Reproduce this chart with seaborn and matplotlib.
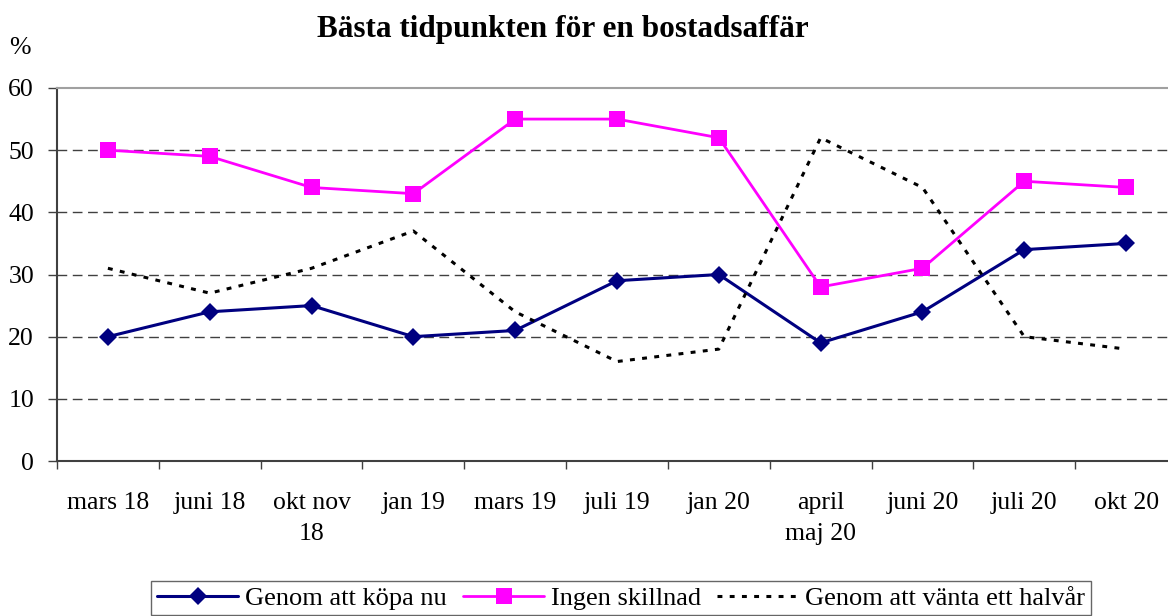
import matplotlib
matplotlib.use("Agg")
import matplotlib.pyplot as plt
import numpy as np
import pandas as pd
import seaborn as sns

categories = [
    "mars 18", "juni 18", "okt nov\n18", "jan 19", "mars 19", "juli 19",
    "jan 20", "april\nmaj 20", "juni 20", "juli 20", "okt 20",
]
kopa_nu = [20, 24, 25, 20, 21, 29, 30, 19, 24, 34, 35]
ingen_skillnad = [50, 49, 44, 43, 55, 55, 52, 28, 31, 45, 44]
vanta_halvar = [31, 27, 31, 37, 24, 16, 18, 52, 44, 20, 18]
y_ticks = [0, 10, 20, 30, 40, 50, 60]

sns.set_theme(style="white")
plt.rcParams["font.family"] = ["Liberation Serif", "DejaVu Serif"]
plt.rcParams.update({
    "text.color": "black",
    "axes.labelcolor": "black",
    "xtick.labelcolor": "black",
    "ytick.labelcolor": "black",
})

pos = np.arange(len(categories))
df = pd.DataFrame({
    "pos": pos,
    "Genom att köpa nu": kopa_nu,
    "Ingen skillnad": ingen_skillnad,
    "Genom att vänta ett halvår": vanta_halvar,
})

fig = plt.figure(figsize=(11.68, 6.16), dpi=100)
ax = fig.add_axes([57 / 1168, 155 / 616, 1120 / 1168, 373 / 616])

for y in y_ticks[1:-1]:
    ax.axhline(y, color="#404040", lw=1.0, dashes=(7, 4), zorder=0)

sns.lineplot(data=df, x="pos", y="Genom att köpa nu", ax=ax, color="#000080",
             lw=2.2, marker="D", markersize=9.5, markeredgewidth=0,
             label="Genom att köpa nu")
sns.lineplot(data=df, x="pos", y="Ingen skillnad", ax=ax, color="#FF00FF",
             lw=2.0, marker="s", markersize=11.5, markeredgewidth=0,
             label="Ingen skillnad")
sns.lineplot(data=df, x="pos", y="Genom att vänta ett halvår", ax=ax,
             color="black", lw=2.2, dashes=(1.6, 2.4),
             label="Genom att vänta ett halvår")

ax.set_xlim(-0.5, len(categories) - 0.5)
ax.set_ylim(0, 60)
ax.set_yticks(y_ticks)
ax.set_yticklabels([str(v) for v in y_ticks], fontsize=18.5)
ax.set_xticks(pos - 0.5)
ax.set_xticklabels([])
ax.set_xticks(pos, minor=True)
ax.set_xticklabels(categories, minor=True, fontsize=18.5, linespacing=1.55)
ax.tick_params(axis="x", which="major", direction="out", length=6, width=1,
               color="#404040", bottom=True)
ax.tick_params(axis="x", which="minor", length=0, pad=22, bottom=True)
ax.tick_params(axis="y", direction="out", length=6.5, width=1,
               color="#404040", left=True, pad=10)
ax.set_xlabel("")
ax.set_ylabel("")

for side in ["left", "bottom"]:
    ax.spines[side].set_color("#404040")
    ax.spines[side].set_linewidth(1.5)
ax.spines["top"].set_color("#a0a0a0")
ax.spines["top"].set_linewidth(1.5)
ax.spines["right"].set_visible(False)

fig.text(563 / 1168, 1 - 30 / 616, "Bästa tidpunkten för en bostadsaffär",
         ha="center", va="center", fontsize=22.5, fontweight="bold")
fig.text(20 / 1168, 1 - 48 / 616, "%", ha="center", va="center", fontsize=18.5)

leg = ax.legend(loc="center", bbox_to_anchor=(621 / 1168, 1 - 598 / 616),
                bbox_transform=fig.transFigure, ncol=3, fontsize=19,
                frameon=True, fancybox=False, edgecolor="#404040",
                handlelength=3.1, handletextpad=0.25, columnspacing=0.6,
                borderpad=0.2, borderaxespad=0)
leg.get_frame().set_linewidth(1.0)

fig.savefig("out.png", dpi=100)
